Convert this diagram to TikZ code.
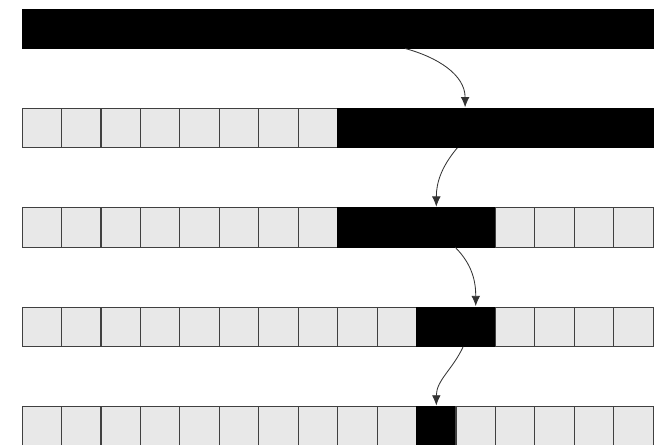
\documentclass[tikz,border=0pt]{standalone}
\usepackage{tikz}
\usetikzlibrary{arrows,arrows.meta,positioning,calc}

\begin{document}
\begin{tikzpicture}
\tikzset{cell/.style={draw=black!75, fill=black!9, line width=0.8pt, minimum size=1cm, inner sep=0pt, outer sep=0pt}}
\tikzset{hot/.style={cell, draw=black, fill=black}}
\tikzset{flow/.style={-{Latex[length=2.6mm,width=2.2mm]}, draw=black!80, line width=0.6pt}}
\useasboundingbox (-0.56,0.23) rectangle (16.17,-11.03);
% row / first black cell / last black cell
\foreach \r/\a/\b in {1/0/15, 2/8/15, 3/8/11, 4/10/11, 5/10/10}{
  \foreach \c in {0,...,15}{
    \pgfmathsetmacro\yy{-2.52*(\r-1)-0.5}
    \ifnum\c<\a \def\st{cell}\else\ifnum\c>\b \def\st{cell}\else\def\st{hot}\fi\fi
    \node[\st] (r\r c\c) at (\c+0.5,\yy) {};
  }
}
\coordinate (s1) at ($(r1c9.south)+(0.21,0)$);
\coordinate (e1) at ($(r2c11.north)+(-0.27,0.03)$);
\coordinate (s2) at ($(r2c11.south)+(-0.47,0)$);
\coordinate (e2) at ($(r3c10.north)+(0,0.03)$);
\coordinate (s3) at ($(r3c10.south)+(0.48,0)$);
\coordinate (e3) at ($(r4c11.north)+(0,0.03)$);
\coordinate (s4) at ($(r4c11.south)+(-0.32,0)$);
\coordinate (e4) at ($(r5c10.north)+(0,0.03)$);
\draw[flow] (s1) to[out=-15,in=90] (e1);
\draw[flow] (s2) to[out=-130,in=90] (e2);
\draw[flow] (s3) to[out=-45,in=90] (e3);
\draw[flow] (s4) to[out=-115,in=90] (e4);
\end{tikzpicture}
\end{document}
